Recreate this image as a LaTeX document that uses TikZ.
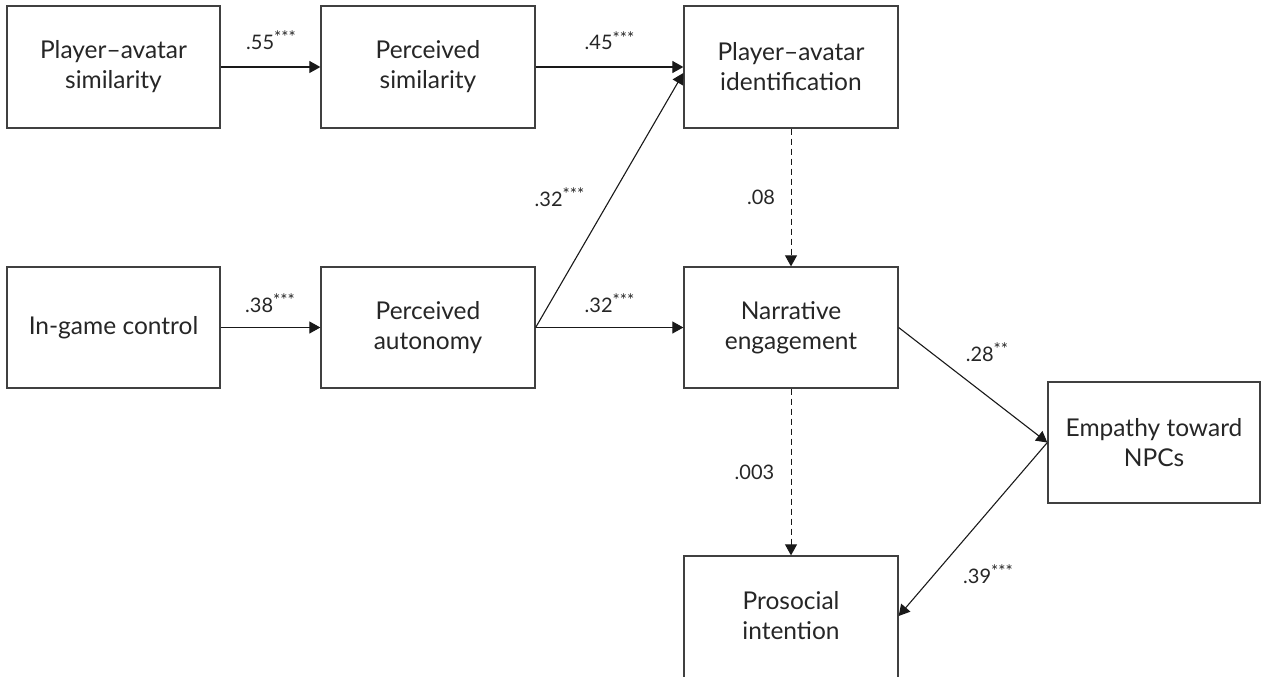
\documentclass[tikz,border=0pt]{standalone}
\usepackage{fontspec}
\setmainfont{Lato}
\usetikzlibrary{arrows.meta}
\newcommand{\stars}[1]{\raisebox{0.28em}{\fontsize{17}{17}\selectfont #1}}
\begin{document}
\begin{tikzpicture}[x=1pt,y=-1pt,
  box/.style={draw=black!75, line width=1.3pt, minimum width=214pt, minimum height=121pt, inner sep=0pt, align=center, font=\fontsize{24.5}{30}\selectfont, text=black!85},
  txt/.style={align=center, font=\fontsize{24.5}{30}\selectfont, text=black!85, inner sep=0pt},
  lbl/.style={font=\fontsize{20}{22}\selectfont, text=black!85, inner sep=0pt, anchor=base},
  link/.style={draw=black!90, line width=1.1pt, -{Triangle[length=11pt,width=12pt]}},
  dlink/.style={link, line width=0.9pt, dash pattern=on 6pt off 4pt}]
\useasboundingbox (0,0) rectangle (1261,677);
\fill[white] (0,0) rectangle (1261,677);
\clip (0,0) rectangle (1261,677);

\node[box, minimum width=213pt, minimum height=122pt] (pas) at (113.5,67) {Player–avatar\\similarity};
\node[box, minimum height=122pt] (ps)  at (428,67) {Perceived\\similarity};
\node[box, minimum height=122pt] (pai) at (791,67) {Player–avatar\\identification};
\node[box, minimum width=213pt] (igc) at (113.5,327.5) {In-game control};
\node[box] (pa)  at (428,327.5) {Perceived\\autonomy};
\node[box] (ne)  at (791,327.5) {Narrative\\engagement};
\node[box, minimum width=212pt] (emp) at (1154,442.5) {Empathy toward\\NPCs};
\node[box, minimum height=126pt] (pro) at (791,619) {};
\node[txt] (prot) at (791,616) {Prosocial\\intention};

\draw[link] (pas.east) -- (ps.west);
\draw[link] (ps.east) -- (pai.west);
\draw[link] (pa.east) -- ([yshift=-6pt]pai.west);
\draw[link] (igc.east) -- (pa.west);
\draw[link] (pa.east) -- (ne.west);
\draw[dlink] (pai.south) -- (ne.north);
\draw[dlink] (ne.south) -- (pro.north);
\draw[link] (ne.east) -- (emp.west);
\draw[link] (emp.west) -- ([yshift=3pt]pro.east);

\node[lbl] (l1) at (271,49) {.55\stars{***}};
\node[lbl] (l2) at (609.5,50) {.45\stars{***}};
\node[lbl] (l3) at (559.5,206) {.32\stars{***}};
\node[lbl] (l4) at (761,204) {.08};
\node[lbl] (l5) at (270,312) {.38\stars{***}};
\node[lbl] (l6) at (609.5,312) {.32\stars{***}};
\node[lbl] (l7) at (987,361) {.28\stars{**}};
\node[lbl] (l8) at (754.5,479) {.003};
\node[lbl] (l9) at (988,583) {.39\stars{***}};
\end{tikzpicture}
\end{document}
